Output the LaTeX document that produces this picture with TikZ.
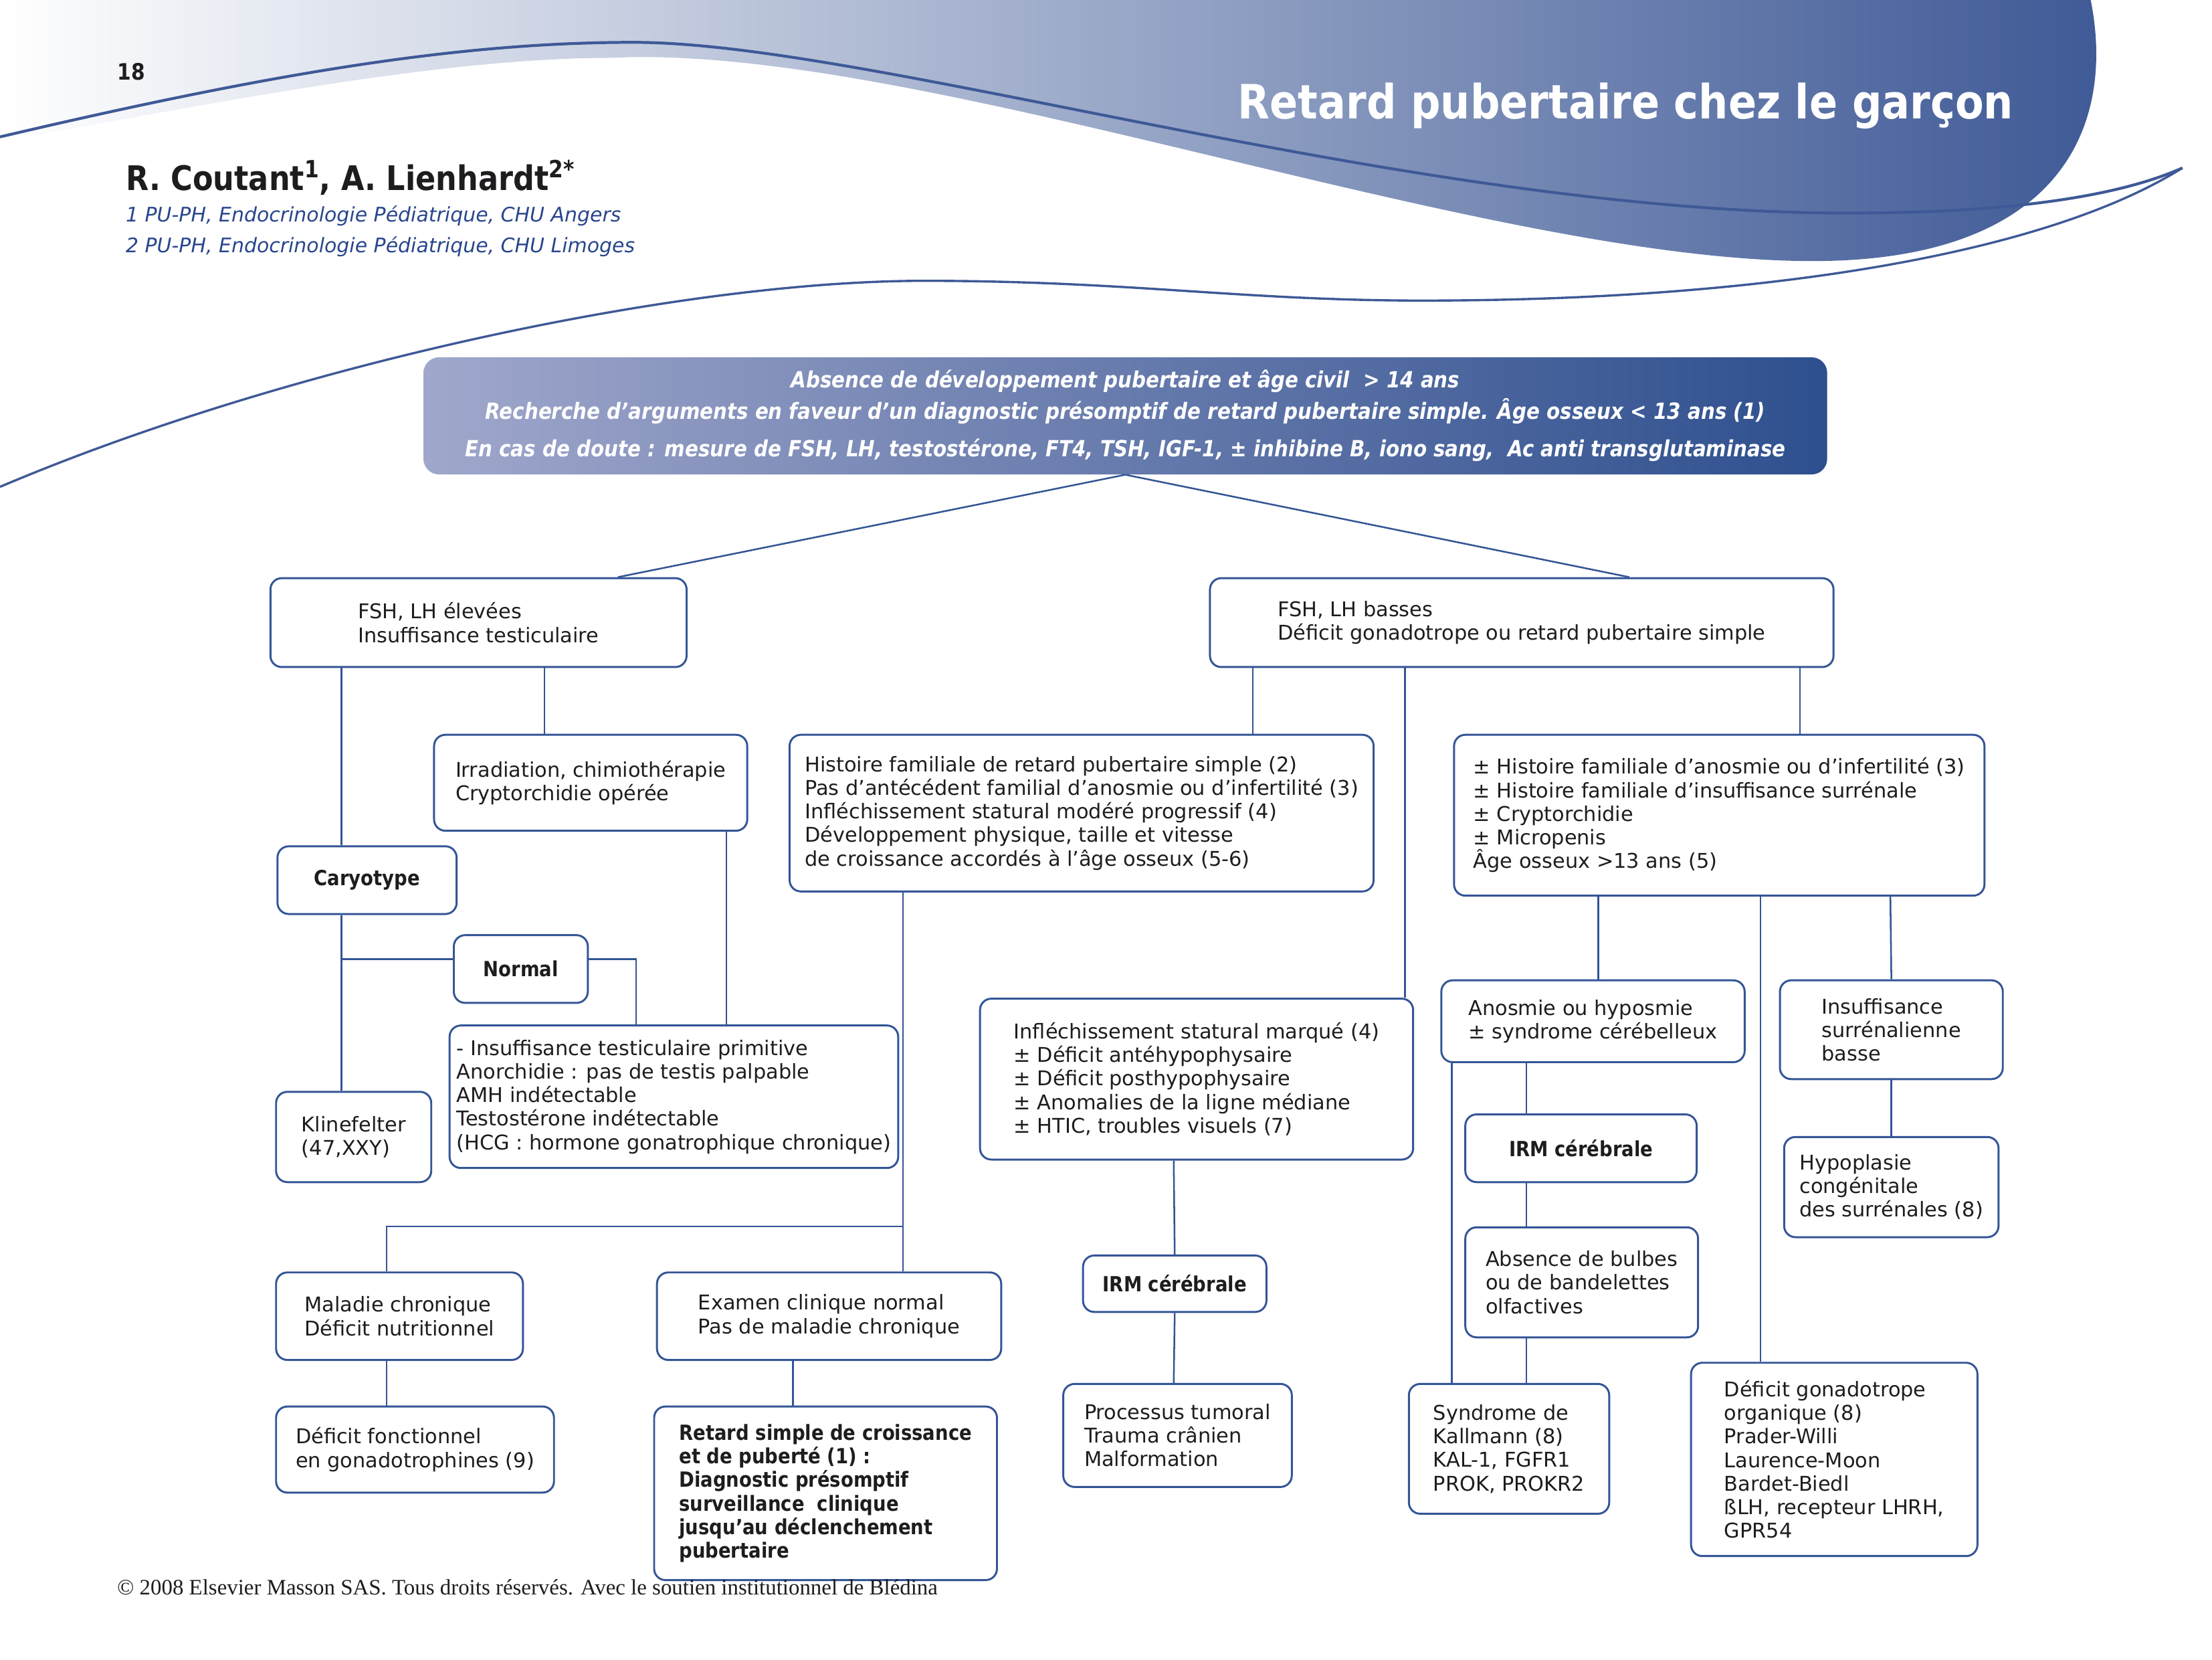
\documentclass[tikz,border=0pt]{standalone}
\usepackage{fontspec}
\setmainfont{DejaVu Sans}
\newfontfamily\condfont{DejaVu Sans}[FakeStretch=0.88]
\newfontfamily\serifft{Liberation Serif}
\definecolor{lineblue}{RGB}{52,85,150}
\definecolor{swblue}{RGB}{62,89,150}
\definecolor{txt}{RGB}{30,28,30}
\definecolor{affblue}{RGB}{40,70,140}
\definecolor{toplight}{RGB}{160,167,203}
\definecolor{topdark}{RGB}{46,79,142}
\begin{document}
\begin{tikzpicture}[x=1pt,y=-1pt,
  box/.style={draw=lineblue, line width=1.4pt, rounded corners=8pt, fill=white,
    align=left, inner sep=0pt, text=txt, anchor=north west,
    font=\fontsize{14.4}{16.7}\selectfont},
  bbox/.style={box, align=center, font=\condfont\bfseries\fontsize{14.8}{16.7}\selectfont},
  conn/.style={draw=lineblue, line width=1.2pt},
  swline/.style={draw=swblue, line width=2pt}
]
\useasboundingbox (0,0) rectangle (1568,1175.9);
% ---- header swoosh ----
\shade[left color=white, right color=swblue]
  (0,0) -- (1482,0) .. controls (1500,90) and (1460,185) .. (1285,185)
  .. controls (1050,185) and (650,30) .. (433,41)
  .. controls (300,41) and (120,80) .. (0,100) -- cycle;
\draw[swline] (0,97) .. controls (200,50) and (330,30) .. (449,30)
  .. controls (620,30) and (1000,151) .. (1310,151)
  .. controls (1420,151) and (1500,140) .. (1547,119);
\draw[swline, line width=1.6pt] (0,345) .. controls (200,260) and (480,199) .. (655,199)
  .. controls (800,199) and (880,213) .. (1008,213)
  .. controls (1250,213) and (1450,180) .. (1547,119);
\node[font=\condfont\bfseries\fontsize{16}{18}\selectfont, text=txt] (pg) at (93,51) {18};
\node[anchor=west, text=white, font=\condfont\bfseries\fontsize{33.5}{36}\selectfont] (title) at (874,75) {Retard pubertaire chez le garçon};
\node[anchor=base west, text=txt, inner sep=0pt, font=\condfont\bfseries\fontsize{24}{26}\selectfont] (auth) at (89,135) {R. Coutant\textsuperscript{1}, A. Lienhardt\textsuperscript{2*}};
\node[anchor=base west, text=affblue, inner sep=0pt, font=\itshape\fontsize{14.2}{17}\selectfont] (aff1) at (89,157) {1 PU-PH, Endocrinologie Pédiatrique, CHU Angers};
\node[anchor=base west, text=affblue, inner sep=0pt, font=\itshape\fontsize{14.2}{17}\selectfont] (aff2) at (89,179) {2 PU-PH, Endocrinologie Pédiatrique, CHU Limoges};
% ---- top box ----
\node[anchor=north west, rounded corners=11pt, left color=toplight, right color=topdark,
  minimum width=995pt, minimum height=83pt, inner sep=0pt, align=center, text=white,
  font=\condfont\bfseries\itshape\fontsize{15.8}{22}\selectfont] (top) at (300,253)
  {Absence de développement pubertaire et âge civil~~> 14 ans\\
   Recherche d’arguments en faveur d’un diagnostic présomptif de retard pubertaire simple. Âge osseux < 13 ans (1)\\[5pt]
   En cas de doute : mesure de FSH, LH, testostérone, FT4, TSH, IGF-1, ± inhibine B, iono sang,~~Ac anti transglutaminase};
% ---- boxes ----
\node[box, minimum width=295pt, minimum height=63pt] (b1) at (191,409) {FSH, LH élevées\\Insuffisance testiculaire};
\node[box, minimum width=442pt, minimum height=63pt] (b2) at (857,409) {FSH, LH basses\\Déficit gonadotrope ou retard pubertaire simple};
\node[box, minimum width=222pt, minimum height=68pt] (b3) at (307,520) {Irradiation, chimiothérapie\\Cryptorchidie opérée};
\node[bbox, minimum width=127pt, minimum height=48pt] (caryo) at (196,599) {Caryotype};
\node[bbox, minimum width=95pt, minimum height=48pt] (normal) at (321,662) {Normal};
\node[box, minimum width=110pt, minimum height=64pt] (kline) at (195,773) {Klinefelter\\(47,XXY)};
\node[box, minimum width=318pt, minimum height=101pt] (ins) at (318,726) {- Insuffisance testiculaire primitive\\Anorchidie : pas de testis palpable\\AMH indétectable\\Testostérone indétectable\\(HCG : hormone gonatrophique chronique)};
\node[box, minimum width=414pt, minimum height=111pt] (hist) at (559,520) {Histoire familiale de retard pubertaire simple (2)\\Pas d’antécédent familial d’anosmie ou d’infertilité (3)\\Infléchissement statural modéré progressif (4)\\Développement physique, taille et vitesse\\de croissance accordés à l’âge osseux (5-6)};
\node[box, minimum width=376pt, minimum height=114pt] (anhist) at (1030,520) {± Histoire familiale d’anosmie ou d’infertilité (3)\\± Histoire familiale d’insuffisance surrénale\\± Cryptorchidie\\± Micropenis\\Âge osseux >13 ans (5)};
\node[box, minimum width=307pt, minimum height=114pt] (infl) at (694,707) {Infléchissement statural marqué (4)\\± Déficit antéhypophysaire\\± Déficit posthypophysaire\\± Anomalies de la ligne médiane\\± HTIC, troubles visuels (7)};
\node[box, minimum width=215pt, minimum height=58pt] (anos) at (1021,694) {Anosmie ou hyposmie\\± syndrome cérébelleux};
\node[box, minimum width=158pt, minimum height=70pt] (isr) at (1261,694) {Insuffisance\\surrénalienne\\basse};
\node[bbox, minimum width=164pt, minimum height=48pt] (irm2) at (1038,789) {IRM cérébrale};
\node[box, minimum width=152pt, minimum height=71pt] (hyp) at (1264,805) {Hypoplasie\\congénitale\\des surrénales (8)};
\node[box, minimum width=165pt, minimum height=78pt] (abs) at (1038,869) {Absence de bulbes\\ou de bandelettes\\olfactives};
\node[bbox, minimum width=130pt, minimum height=40pt] (irm1) at (767,889) {IRM cérébrale};
\node[box, minimum width=175pt, minimum height=62pt] (mal) at (195,901) {Maladie chronique\\Déficit nutritionnel};
\node[box, minimum width=244pt, minimum height=62pt] (exam) at (465,901) {Examen clinique normal\\Pas de maladie chronique};
\node[box, minimum width=197pt, minimum height=61pt] (dfon) at (195,996) {Déficit fonctionnel\\en gonadotrophines (9)};
\node[box, minimum width=243pt, minimum height=123pt, font=\condfont\bfseries\fontsize{14.8}{16.7}\selectfont] (ret) at (463,996) {Retard simple de croissance\\et de puberté (1) :\\Diagnostic présomptif\\surveillance~~clinique\\jusqu’au déclenchement\\pubertaire};
\node[box, minimum width=162pt, minimum height=73pt] (proc) at (753,980) {Processus tumoral\\Trauma crânien\\Malformation};
\node[box, minimum width=142pt, minimum height=92pt] (kal) at (998,980) {Syndrome de\\Kallmann (8)\\KAL-1, FGFR1\\PROK, PROKR2};
\node[box, minimum width=203pt, minimum height=137pt] (dorg) at (1198,965) {Déficit gonadotrope\\organique (8)\\Prader-Willi\\Laurence-Moon\\Bardet-Biedl\\ßLH, recepteur LHRH,\\GPR54};
% ---- footer ----
\node[anchor=base west, inner sep=0pt, text=txt, font=\serifft\fontsize{15.6}{17}\selectfont] (foot) at (83,1130) {© 2008 Elsevier Masson SAS. Tous droits réservés. Avec le soutien institutionnel de Blédina};
% ---- connectors ----
\draw[conn] (top.south) -- ([xshift=247pt]b1.north west);
\draw[conn] (top.south) -- ([xshift=298pt]b2.north west);
\draw[conn] ([xshift=51pt]b1.south west) -- ([xshift=46pt]caryo.north west);
\draw[conn] ([xshift=46pt]caryo.south west) -- ([xshift=47pt]kline.north west);
\draw[conn] ([yshift=7pt]normal.west) -- ++(-79,0);
\draw[conn] ([yshift=7pt]normal.east) -| ([xshift=133pt]ins.north west);
\draw[conn] ([xshift=195pt]b1.south west) -- ([xshift=79pt]b3.north west);
\draw[conn] ([xshift=208pt]b3.south west) -- ([xshift=197pt]ins.north west);
\draw[conn] ([xshift=31pt]b2.south west) -- ([xshift=329pt]hist.north west);
\draw[conn] ([xshift=139pt]b2.south west) -- ([xshift=302pt]infl.north west);
\draw[conn] ([xshift=419pt]b2.south west) -- ([xshift=246pt]anhist.north west);
\coordinate (hj) at (640,869);
\draw[conn] ([xshift=81pt]hist.south west) -- (hj) -- ([xshift=175pt]exam.north west);
\draw[conn] (hj) -| ([xshift=79pt]mal.north west);
\draw[conn] ([xshift=79pt]mal.south west) -- ([xshift=79pt]dfon.north west);
\draw[conn] ([xshift=97pt]exam.south west) -- ([xshift=99pt]ret.north west);
\draw[conn] ([xshift=138pt]infl.south west) -- (irm1.north);
\draw[conn] (irm1.south) -- ([xshift=79pt]proc.north west);
\draw[conn] ([xshift=103pt]anhist.south west) -- ([xshift=112pt]anos.north west);
\draw[conn] ([xshift=218pt]anhist.south west) -- ([xshift=50pt]dorg.north west);
\draw[conn] ([xshift=310pt]anhist.south west) -- (isr.north);
\draw[conn] ([xshift=61pt]anos.south west) -- ([xshift=44pt]irm2.north west);
\draw[conn] ([xshift=44pt]irm2.south west) -- ([xshift=44pt]abs.north west);
\draw[conn] ([xshift=44pt]abs.south west) -- ([xshift=84pt]kal.north west);
\draw[conn] ([xshift=8pt]anos.south west) -- ([xshift=31pt]kal.north west);
\draw[conn] (isr.south) -- (hyp.north);
\end{tikzpicture}
\end{document}
